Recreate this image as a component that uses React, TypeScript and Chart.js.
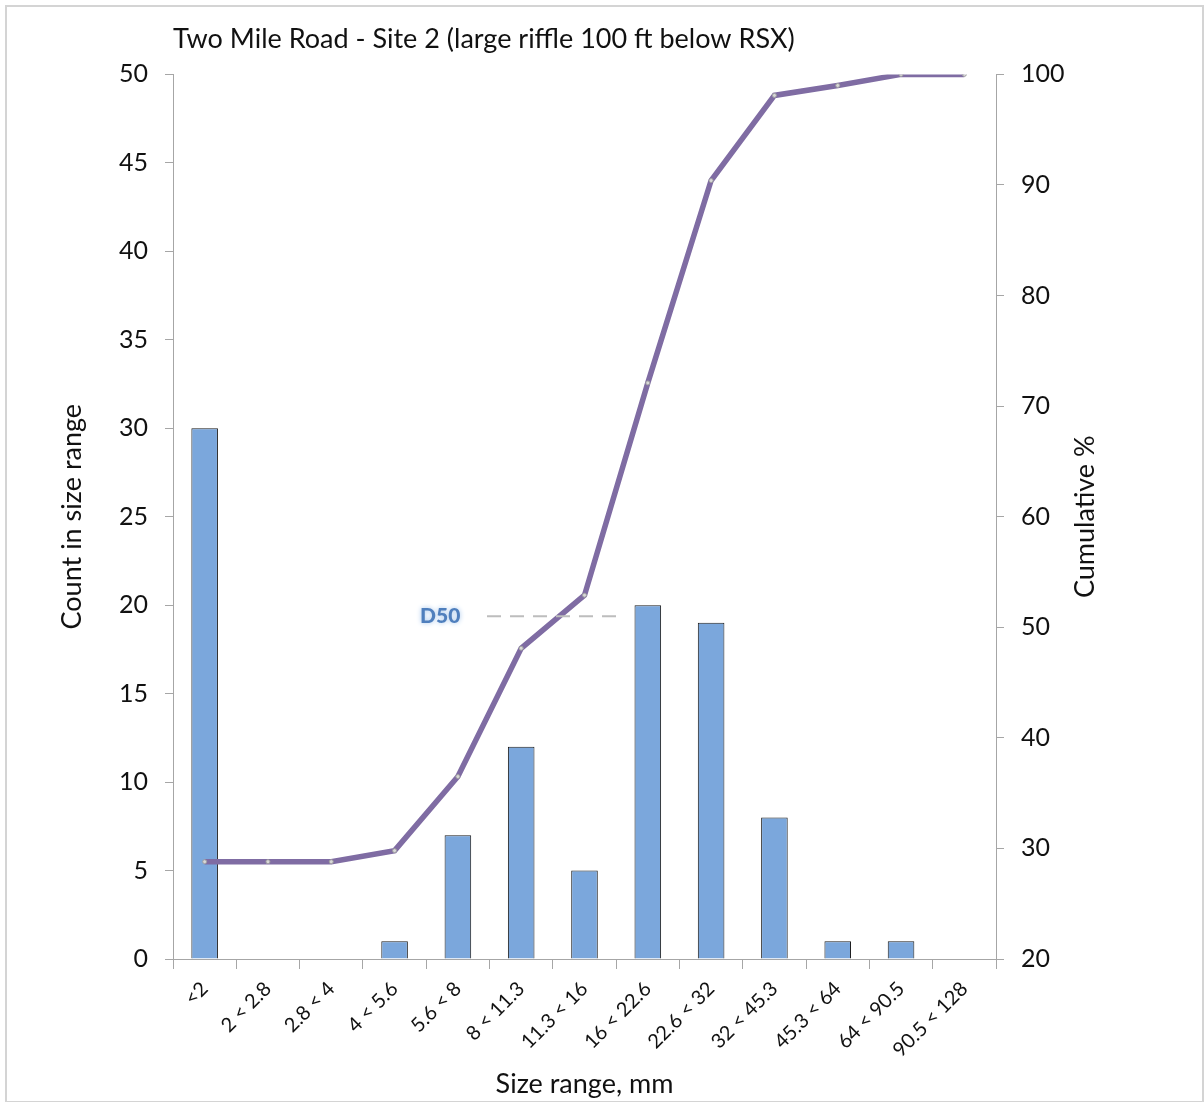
import React, { useEffect, useRef } from "react";
import { Chart, registerables } from "chart.js";

Chart.register(...registerables);

const categories = [
  "<2", "2 < 2.8", "2.8 < 4", "4 < 5.6", "5.6 < 8", "8 < 11.3", "11.3 < 16",
  "16 < 22.6", "22.6 < 32", "32 < 45.3", "45.3 < 64", "64 < 90.5", "90.5 < 128",
];
const counts = [30, 0, 0, 1, 7, 12, 5, 20, 19, 8, 1, 1, 0];
const cumulative = [28.8, 28.8, 28.8, 29.8, 36.5, 48.1, 52.9, 72.1, 90.4, 98.1, 99.0, 100, 100];
const leftTicks = [0, 5, 10, 15, 20, 25, 30, 35, 40, 45, 50];
const rightTicks = [20, 30, 40, 50, 60, 70, 80, 90, 100];
const d50Value = 51;
const d50LabelIndex = 3.72;
const d50LineFrom = 4.46;
const d50LineTo = 6.56;

const FONT = "Lato, 'Open Sans', sans-serif";

const framePlugin = {
  id: "frame",
  beforeDraw(chart: any) {
    const { ctx, width, height } = chart;
    ctx.save();
    ctx.fillStyle = "#ffffff";
    ctx.fillRect(0, 0, width, height);
    ctx.strokeStyle = "#d4d4d4";
    ctx.lineWidth = 2;
    ctx.strokeRect(6, 6, width - 7, height - 6);
    ctx.restore();
  },
};

const annotationPlugin = {
  id: "d50",
  afterDatasetsDraw(chart: any) {
    const { ctx, scales } = chart;
    const x = scales.x;
    const y1 = scales.y1;
    const yy = y1.getPixelForValue(d50Value);
    ctx.save();
    ctx.strokeStyle = "#bdbdbd";
    ctx.lineWidth = 2;
    ctx.setLineDash([14, 9]);
    ctx.beginPath();
    ctx.moveTo(x.getPixelForValue(d50LineFrom), yy);
    ctx.lineTo(x.getPixelForValue(d50LineTo), yy);
    ctx.stroke();
    ctx.setLineDash([]);
    ctx.font = `900 21px ${FONT}`;
    ctx.textAlign = "center";
    ctx.textBaseline = "middle";
    ctx.shadowColor = "#9fc2ea";
    ctx.shadowBlur = 5;
    ctx.fillStyle = "#4f7fbd";
    ctx.fillText("D50", x.getPixelForValue(d50LabelIndex), yy);
    ctx.restore();
  },
  afterDraw(chart: any) {
    const { ctx, scales, chartArea } = chart;
    const y1 = scales.y1;
    ctx.save();
    ctx.font = `27px ${FONT}`;
    ctx.fillStyle = "#111111";
    ctx.textAlign = "center";
    ctx.textBaseline = "middle";
    ctx.translate(y1.right - 119, (chartArea.top + chartArea.bottom) / 2);
    ctx.rotate(-Math.PI / 2);
    ctx.fillText("Cumulative %", 0, 0);
    ctx.restore();
  },
};

export default function App() {
  const ref = useRef<HTMLCanvasElement | null>(null);

  useEffect(() => {
    if (!ref.current) return;
    const chart = new Chart(ref.current, {
      type: "bar",
      data: {
        labels: categories,
        datasets: [
          {
            type: "line",
            label: "Cumulative %",
            data: cumulative,
            yAxisID: "y1",
            borderColor: "#7f6ca3",
            borderWidth: 5.5,
            pointRadius: 2,
            pointBackgroundColor: "#d8d8d8",
            pointBorderColor: "#a0a0a0",
            pointBorderWidth: 1,
            tension: 0,
            order: 0,
          } as any,
          {
            type: "bar",
            label: "Count",
            data: counts,
            yAxisID: "y",
            backgroundColor: "#7ba7dc",
            borderColor: "#1c1c1c",
            borderWidth: 1,
            barPercentage: 0.42,
            categoryPercentage: 1,
            order: 1,
          },
        ],
      },
      options: {
        responsive: false,
        maintainAspectRatio: false,
        animation: false,
        layout: { padding: { top: 8, left: 0, right: 0, bottom: 0 } },
        plugins: {
          legend: { display: false },
          tooltip: { enabled: false },
          title: {
            display: true,
            text: "Two Mile Road - Site 2 (large riffle 100 ft below RSX)",
            align: "start",
            fullSize: false,
            color: "#111111",
            font: { family: FONT, size: 27, weight: "normal" },
            padding: { top: 15, bottom: 19 },
          },
        },
        scales: {
          x: {
            type: "category",
            offset: true,
            grid: {
              offset: true,
              drawOnChartArea: false,
              drawTicks: true,
              tickLength: 10,
              color: "#a6a6a6",
            },
            border: { color: "#a6a6a6", width: 1 },
            ticks: {
              color: "#111111",
              font: { family: FONT, size: 20 },
              minRotation: 45,
              maxRotation: 45,
              autoSkip: false,
              padding: 8,
            },
            title: {
              display: true,
              text: "Size range, mm",
              color: "#111111",
              font: { family: FONT, size: 27 },
              padding: { top: 0, bottom: 2 },
            },
            afterFit(scale: any) {
              scale.height = 143;
            },
          },
          y: {
            type: "linear",
            position: "left",
            min: 0,
            max: 50,
            afterBuildTicks(scale: any) {
              scale.ticks = leftTicks.map((v) => ({ value: v }));
            },
            grid: {
              drawOnChartArea: false,
              drawTicks: true,
              tickLength: 8,
              color: "#a6a6a6",
            },
            border: { color: "#a6a6a6", width: 1 },
            ticks: {
              color: "#111111",
              font: { family: FONT, size: 25 },
              padding: 17,
            },
            title: {
              display: true,
              text: "Count in size range",
              color: "#111111",
              font: { family: FONT, size: 27 },
              padding: { top: 56, bottom: 0 },
            },
            afterFit(scale: any) {
              scale.width = 173;
            },
          },
          y1: {
            type: "linear",
            position: "right",
            min: 20,
            max: 100,
            afterBuildTicks(scale: any) {
              scale.ticks = rightTicks.map((v) => ({ value: v }));
            },
            grid: {
              drawOnChartArea: false,
              drawTicks: true,
              tickLength: 8,
              color: "#a6a6a6",
            },
            border: { color: "#a6a6a6", width: 1 },
            ticks: {
              color: "#111111",
              font: { family: FONT, size: 25 },
              padding: 17,
            },
            title: { display: false },
            afterFit(scale: any) {
              scale.width = 208;
            },
          },
        },
      },
      plugins: [framePlugin, annotationPlugin],
    });
    return () => chart.destroy();
  }, []);

  return (
    <div style={{ position: "absolute", left: 0, top: 0, width: 1204, height: 1102 }}>
      <canvas ref={ref} width={1204} height={1102} style={{ display: "block" }} />
    </div>
  );
}
